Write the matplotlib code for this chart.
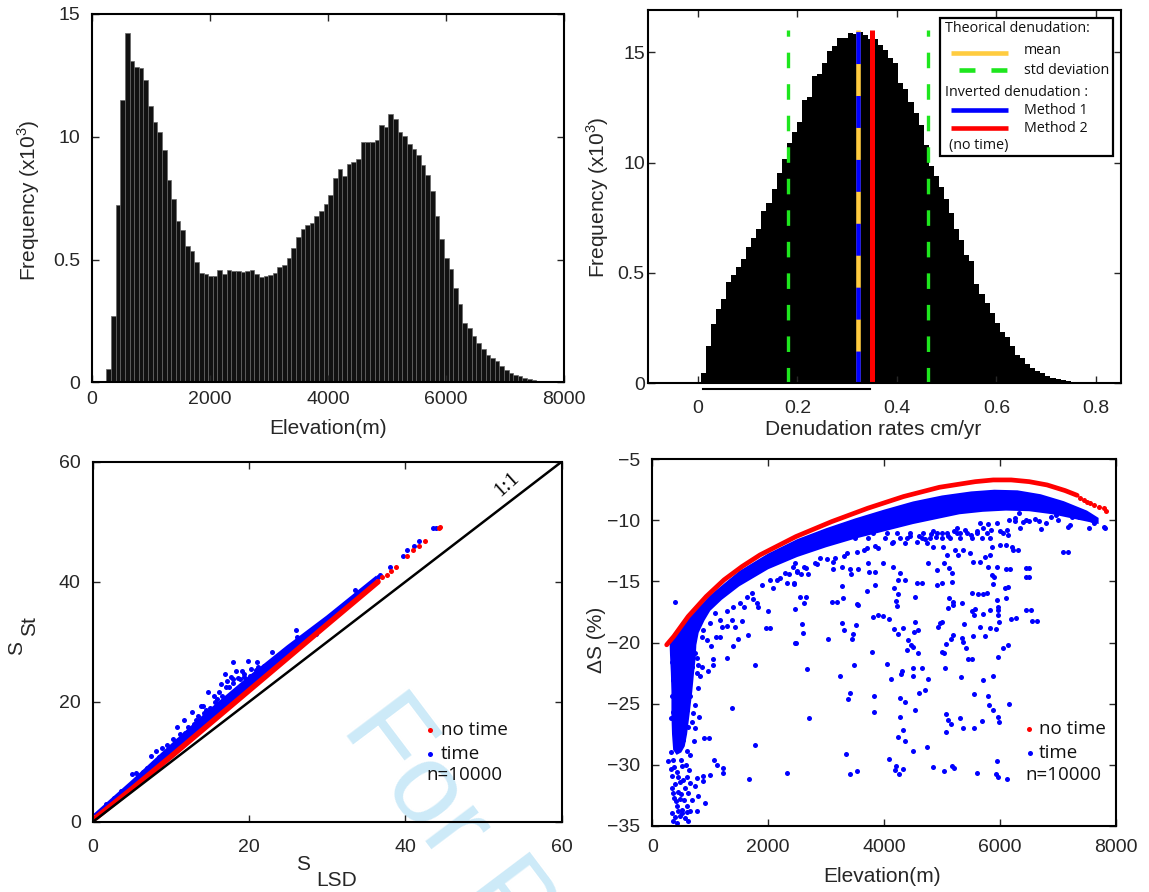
import numpy as np
import matplotlib.pyplot as plt
from matplotlib.patches import Rectangle

plt.rcParams['font.family'] = ['Liberation Sans', 'DejaVu Sans']
plt.rcParams['mathtext.fontset'] = 'custom'
plt.rcParams['mathtext.rm'] = 'Liberation Sans'
plt.rcParams['lines.scale_dashes'] = False

# ---------------- data ----------------
# (a) elevation histogram, counts x10^3
elev_bin_start, elev_bin_width = 250, 78.3
elev_counts = [0.54, 2.72, 7.23, 11.48, 14.24, 13.08, 12.85, 12.82, 12.3, 11.27,
               10.59, 10.19, 9.48, 8.22, 7.47, 6.58, 6.2, 5.56, 5.33, 4.88,
               4.47, 4.43, 4.32, 4.32, 4.56, 4.43, 4.56, 4.54, 4.54, 4.51,
               4.54, 4.56, 4.43, 4.29, 4.33, 4.37, 4.47, 4.71, 4.78, 5.08,
               5.49, 5.90, 6.24, 6.42, 6.47, 6.78, 6.96, 7.26, 7.64, 8.31,
               8.68, 8.39, 8.90, 8.99, 9.11, 9.78, 9.78, 9.80, 9.85, 10.46,
               10.40, 10.94, 10.74, 10.19, 10.05, 9.69, 9.51, 9.24, 8.87, 8.45,
               7.81, 6.78, 5.83, 5.08, 4.60, 3.86, 3.17, 2.43, 2.22, 1.88,
               1.61, 1.34, 1.13, 0.97, 0.86, 0.68, 0.52, 0.38, 0.31, 0.25,
               0.18, 0.14, 0.10, 0.07, 0.04, 0.03, 0.02, 0.01]

# (b) denudation histogram, counts x10^3
den_bin_start, den_bin_width = 0.005, 0.0102
den_counts = [0.45, 1.69, 2.67, 3.35, 3.80, 4.58, 4.91, 5.26, 5.64, 6.17,
              6.60, 7.00, 7.81, 8.19, 8.80, 9.51, 10.16, 10.88, 11.40, 11.83,
              12.85, 12.97, 13.90, 14.02, 14.50, 15.06, 15.26, 15.63, 15.66, 15.86,
              15.81, 15.90, 15.80, 15.60, 15.59, 15.33, 15.10, 14.73, 14.50, 13.60,
              13.34, 12.72, 12.24, 11.71, 10.81, 9.83, 9.38, 8.89, 8.35, 7.72,
              6.97, 6.47, 5.83, 5.56, 4.48, 4.06, 3.65, 3.20, 2.74, 2.32,
              2.10, 1.69, 1.27, 1.16, 0.86, 0.71, 0.56, 0.48, 0.33, 0.26,
              0.18, 0.14, 0.09, 0.06, 0.04, 0.03, 0.02, 0.02, 0.01, 0.01, 0.05]
den_mean = 0.322
den_std_lo, den_std_hi = 0.1815, 0.4618
den_method1 = 0.322
den_method2 = 0.350
den_line_top = 16
den_range_bar = [0.0094, 0.3458]

# (c) S_St vs S_LSD
slsd_red_x = [0.4, 5, 10, 15, 20, 25, 30, 36.5]
slsd_red_y = [0.7, 5.5, 10.9, 16.4, 21.9, 27.4, 32.9, 40.0]
slsd_red_sparse_x = [36.98, 37.6, 38.2, 38.78, 40.25, 41.01, 41.77, 42.48, 44.24, 44.48]
slsd_red_sparse_y = [40.8, 41.19, 41.74, 42.47, 44.25, 45.25, 46.03, 46.81, 49.04, 49.15]
slsd_blue_band_x = [0.4, 5, 10, 15, 20, 25, 30, 36.2]
slsd_blue_band_lo = [0.7, 5.5, 10.9, 16.4, 21.9, 27.4, 32.9, 40.0]
slsd_blue_band_hi = [1.3, 6.6, 12.6, 18.5, 24.0, 29.2, 34.1, 40.6]
slsd_blue_x = [3.66, 5.08, 5.55, 7.45, 8.16, 8.88, 10.3, 10.77, 11.73, 12.67,
               13.86, 14.1, 14.8, 15.52, 16.47, 16.95, 17.66, 17.99, 18.37, 19.08,
               19.32, 19.89, 20.27, 21.08, 22.17, 22.97, 24.5, 25.96, 26.2, 30.0,
               33.56, 17.19, 18.85, 21.2, 23.35, 1.76, 2.7,
               9.5, 11.2, 12.2, 13.2, 14.5, 15.9, 16.2, 17.4, 18.0, 19.6,
               20.6, 21.6, 22.6, 24.0, 25.2, 26.8, 27.6, 28.6, 31.5, 32.5, 34.5, 35.5,
               6.4, 7.0, 8.5, 9.9, 10.9, 11.8, 12.9, 13.5, 14.2, 15.0, 15.6, 16.6,
               17.0, 17.9, 18.6, 19.3, 20.1, 20.9, 21.9, 23.0, 23.8, 25.4,
               36.5, 36.8, 38.07, 39.73, 40.2, 41.15, 41.77, 43.53, 43.86]
slsd_blue_y = [5.18, 7.96, 8.24, 11.0, 11.85, 12.4, 13.8, 15.75, 16.97, 18.25,
               19.37, 19.37, 21.6, 21.04, 22.99, 24.66, 24.1, 26.6, 25.2, 25.2,
               24.1, 26.88, 25.5, 26.6, 25.2, 28.27, 28.27, 32.0, 30.78, 33.56,
               38.68, 23.54, 23.82, 25.88, 26.88, 2.95, 4.06,
               12.9, 14.6, 15.9, 17.0, 18.6, 20.4, 21.7, 22.5, 23.1, 23.3,
               24.4, 24.7, 26.0, 27.1, 28.3, 29.6, 30.4, 31.3, 35.0, 36.2, 38.3, 39.3,
               8.4, 9.0, 10.9, 12.3, 13.6, 14.9, 16.3, 17.6, 18.1, 19.0, 20.0, 21.0,
               22.4, 23.8, 23.9, 24.6, 24.3, 25.3, 26.0, 26.2, 27.5, 28.9,
               40.8, 41.1, 42.47, 44.25, 45.25, 46.03, 46.81, 49.04, 49.04]

# (d) Delta S vs elevation
ds_red_x = [248, 371, 619, 929, 1238, 1548, 1858, 2477, 3096, 3715, 4334,
            4954, 5573, 5882, 6192, 6502, 6811, 7121, 7330]
ds_red_y = [-20.19, -19.5, -17.87, -16.24, -14.87, -13.78, -12.83, -11.33, -10.10,
            -9.01, -8.05, -7.29, -6.83, -6.69, -6.69, -6.83, -7.10, -7.56, -7.95]
ds_red_sparse_x = [7380, 7440, 7492, 7560, 7628, 7700, 7789, 7833]
ds_red_sparse_y = [-8.2, -8.33, -8.46, -8.6, -8.74, -8.87, -9.0, -9.23]
ds_band_top_x = [300, 600, 1000, 1500, 2000, 2500, 3000, 3500, 4000, 4500, 5000,
                 5500, 5900, 6300, 6700, 7100, 7500, 7700]
ds_band_top_y = [-20.0, -18.14, -16.12, -14.15, -12.71, -11.54, -10.64, -9.84, -9.12,
                 -8.45, -7.96, -7.63, -7.49, -7.54, -7.86, -8.43, -9.2, -9.8]
ds_band_bot_x = [7700, 7300, 6900, 6500, 6100, 5700, 5300, 4900, 4500, 4000, 3500,
                 3000, 2500, 2000, 1500, 1200, 1000, 900, 800, 760, 750, 720, 690,
                 640, 600, 560, 500, 420, 360, 340, 330, 330, 320, 305, 300]
ds_band_bot_y = [-10.3, -9.9, -9.5, -9.25, -9.2, -9.3, -9.5, -9.9, -10.3, -10.9, -11.5,
                 -12.2, -13.0, -14.0, -15.4, -16.5, -17.4, -18.2, -19.2, -20.2, -21.2,
                 -22.5, -24.0, -26.0, -27.5, -28.5, -29.0, -29.2, -28.8, -27.5, -26.0,
                 -24.0, -22.5, -21.0, -20.3]
ds_blue_x = [
    392, 334, 363, 346, 363, 323, 380, 421, 449, 265, 317, 346, 334, 374, 334, 363,
    421, 507, 593, 651, 766, 679, 622, 564, 536, 651, 737, 794, 909, 766, 869, 881,
    996, 1065, 1122, 1214, 1214, 892, 984, 720, 651, 593, 536, 507, 622, 679, 737,
    812, 708, 593, 478, 737, 651, 593, 478, 794, 823, 766, 679, 593, 507, 421, 766,
    794, 852, 967, 1042, 1042, 1283, 1013, 1168, 1398, 1484, 1657, 1772, 1542, 1427,
    1295, 1369, 1197, 1099, 938, 881, 1829, 2002, 1962, 2030, 1772, 1381, 2318, 2462,
    2088, 2318, 2445, 2433, 2491, 2289, 2203, 2030, 1887, 1714, 1628, 1513, 1398,
    1283, 1168, 1082, 995, 852, 737, 622, 536, 478, 1800, 1588, 1731, 1672,
    380, 420, 450, 480, 400, 440, 470, 500, 410, 450, 480, 390, 430, 520, 550, 600,
    580, 630, 520, 490, 360, 330, 350, 560, 600, 620,
    7165, 2444, 2548, 2645, 2461, 2617, 2576, 2605, 2473, 2674, 2708, 3025, 3094,
    3180, 3266, 3295, 3266, 3307, 3439, 3456, 3508, 3238, 3479, 3410, 3381, 3341,
    3410, 3525, 3525, 3554, 3709, 3784, 3801, 3841, 3830, 3830, 3899, 3985, 4083,
    4175, 4244, 4330, 4169, 4244, 4227, 4204, 4043, 4117, 4273, 4359, 4290, 4301,
    4388, 4416, 4457, 4491, 4514, 4531, 4589, 4589, 4491, 4491, 4646, 4750, 4704,
    4606, 4531, 4273, 4319, 4244, 4359, 4491, 4733, 4083, 4204, 4186, 4261, 4330,
    4848, 5032, 5164, 5204, 5607, 5952, 5923, 5969, 6113, 5066, 5095, 5147, 5060,
    5308, 5354, 5549, 5693, 5785, 5808, 5871, 5969, 5980, 6153, 5883, 5699, 5555,
    5319, 5049, 5520, 5451, 5405, 5365, 5336, 5193, 5147, 5066, 5037, 4991, 4934,
    4963, 4991, 5377, 5538, 5653, 5739, 5825, 5929, 5980, 5969, 5969, 5969, 5825,
    5710, 5549, 5509, 5624, 5699, 5768, 5952, 6101, 6130, 6274, 6527, 6630, 6504,
    6504, 6170, 5883, 6055, 6141, 5969, 5181, 5124, 5095, 5193, 5336, 5509, 5566,
    4991, 4905, 5164, 5164, 5124, 5032, 4905, 4750, 4646, 4560, 4531, 4359, 4244,
    4273, 4146, 3985, 3841, 3738, 3715, 3554, 3410, 3422, 3278, 3123, 3123, 3008,
    2691, 2565, 2502, 2461, 2617, 2806, 2893, 3353, 3525, 3698, 3899, 4129, 4359,
    4560, 4733, 4848, 5020, 5078, 5221, 5279, 5365, 5480, 5538, 5653, 5739, 5825,
    5796, 5854, 5894, 5940, 5998, 6101, 6199, 6302, 5854,
    3410, 3583, 3813, 4043, 4215, 4445, 4675, 4905, 5078, 5250, 5423, 5595, 5768, 6055,
    3496, 3726, 4014, 4273, 4388, 4646, 4790, 4991, 5135, 5308, 5509, 5681, 5825,
    5800, 5850, 5700, 5950, 6000, 5600, 5500, 5400, 5300, 5200, 5100, 5000, 4900,
    4800, 4700, 4600, 6250, 6400, 6600, 6800, 7000, 7200, 6350, 6700, 6150, 5650,
    5250, 4850, 4450, 4150, 3850, 3650, 3300, 3150, 2850, 2650, 2350, 2150,
    6111, 6130, 6223, 6099, 6087, 6192, 6440, 6440, 6452, 6551, 6328, 6266, 6440,
    6501, 6675, 6873, 6966, 7077, 7164, 7245, 7368, 7492, 7542, 7585, 7628, 7789, 7814]
ds_blue_y = [
    -16.65, -21.56, -23.06, -24.42, -25.65, -26.19, -26.74, -27.42, -27.97, -29.74,
    -30.37, -30.97, -31.92, -32.74, -33.97, -34.65, -33.42, -33.7, -33.42, -33.83,
    -33.83, -32.88, -32.33, -31.92, -31.24, -31.51, -31.79, -32.6, -33.15, -31.1,
    -30.97, -31.38, -30.83, -29.6, -30.01, -30.29, -30.69, -27.78, -27.83, -28.1,
    -29.19, -28.92, -27.97, -27.42, -26.88, -26.47, -27.01, -26.06, -25.78, -25.51,
    -25.24, -25.1, -24.42, -24.01, -23.74, -23.74, -22.78, -22.51, -21.97, -21.83,
    -21.15, -20.87, -21.28, -21.83, -21.97, -22.37, -21.83, -21.37, -21.28, -20.27,
    -19.51, -20.27, -19.73, -19.37, -21.83, -18.28, -18.75, -18.64, -18.15, -18.69,
    -19.57, -19.78, -18.97, -17.06, -17.46, -18.83, -18.83, -28.38, -25.38, -30.69,
    -20.06, -15.56, -15.15, -15.23, -13.78, -14.19, -14.33, -14.74, -14.87, -15.28,
    -15.96, -16.24, -16.78, -17.06, -17.46, -18.15, -17.6, -18.42, -19.51, -20.87,
    -21.15, -20.6, -20.19, -16.73, -17.06, -16.46, -31.18,
    -30.2, -30.6, -31.0, -31.4, -31.6, -32.2, -32.8, -32.4, -33.0, -33.8, -34.2, -34.3,
    -34.8, -34.0, -32.9, -31.0, -30.0, -30.4, -30.1, -29.6, -29.6, -29.0, -32.3,
    -34.4, -33.9, -34.6,
    -12.56, -15.15, -16.24, -16.24, -17.28, -16.79, -18.48, -19.19, -20.06, -22.19,
    -26.2, -19.73, -16.65, -16.65, -15.37, -16.38, -18.37, -18.97, -19.73, -19.3,
    -18.56, -22.71, -21.83, -24.15, -24.64, -29.12, -30.75, -30.56, -16.84, -16.92,
    -15.78, -20.74, -17.93, -15.29, -24.42, -25.71, -17.74, -17.82, -18.1, -18.91,
    -19.3, -18.83, -15.56, -16.02, -17.0, -16.57, -21.78, -23.0, -24.56, -24.89,
    -22.57, -22.3, -20.61, -19.79, -20.2, -20.39, -19.11, -18.29, -18.97, -20.82,
    -22.11, -22.73, -22.11, -23.01, -23.93, -24.1, -25.51, -26.11, -27.15, -27.7,
    -28.1, -28.9, -28.57, -29.55, -30.15, -30.48, -30.75, -30.37, -30.21, -30.56,
    -30.15, -30.29, -30.7, -29.74, -30.75, -31.03, -31.19, -25.84, -26.33, -26.69,
    -27.34, -26.2, -27.02, -26.96, -26.42, -24.34, -25.11, -25.52, -26.06, -26.55,
    -25.05, -22.71, -23.11, -24.23, -22.79, -22.11, -21.34, -21.34, -20.47, -19.92,
    -19.65, -19.38, -19.73, -20.11, -20.88, -20.74, -18.7, -18.42, -18.29, -18.5,
    -19.46, -18.7, -19.46, -18.78, -18.91, -18.29, -17.74, -17.33, -17.06, -17.33,
    -17.66, -17.74, -15.91, -16.02, -16.02, -15.97, -16.51, -16.38, -15.48, -18.01,
    -17.33, -18.2, -14.6, -13.87, -13.98, -15.2, -20.47, -20.2, -21.15, -16.92,
    -16.38, -17.2, -16.65, -16.79, -17.41, -17.28, -15.15, -15.29, -15.01, -14.33,
    -13.92, -13.51, -14.06, -13.51, -15.1, -15.1, -16.24, -14.88, -14.88, -14.28,
    -13.79, -13.51, -14.2, -14.2, -13.51, -14.0, -14.0, -14.39, -13.84, -13.98,
    -13.38, -13.19, -14.41, -14.41, -14.11, -13.51, -13.84, -13.51, -13.1, -12.69,
    -12.56, -12.29, -12.29, -11.88, -11.88, -11.74, -11.88, -12.15, -12.15, -12.83,
    -12.42, -12.83, -12.42, -12.69, -13.38, -13.38, -12.97, -12.83, -13.79, -14.47,
    -14.6, -13.79, -12.01, -12.01, -12.15, -12.42, -12.15,
    -11.06, -11.06, -11.06, -11.06, -11.06, -11.06, -11.06, -11.06, -11.06, -11.06,
    -11.06, -11.06, -11.06, -11.06,
    -11.47, -11.47, -11.47, -11.47, -11.47, -11.47, -11.47, -11.47, -11.47, -11.47,
    -11.47, -11.47, -11.47,
    -10.3, -10.8, -10.6, -10.2, -10.9, -10.9, -11.2, -10.8, -11.0, -10.9, -11.3, -11.0,
    -11.4, -11.1, -11.5, -11.3, -9.8, -10.1, -9.9, -10.2, -10.0, -10.4, -10.6, -10.7,
    -10.0, -10.2, -10.6, -10.9, -11.3, -11.8, -12.1, -12.4, -12.9, -13.1, -13.6,
    -13.9, -14.4, -14.9,
    -10.78, -11.19, -12.42, -14.0, -15.55, -18.06, -13.92, -14.6, -17.33, -18.28,
    -9.36, -10.04, -9.96, -10.04, -10.04, -9.69, -9.55, -12.55, -10.51, -9.69, -9.75,
    -9.64, -10.65, -9.96, -10.18, -10.56, -10.65]

# ---------------- figure ----------------
W, H = 1149, 892


def rect(l, t, r, b):
    return [l / W, 1 - b / H, (r - l) / W, (b - t) / H]


def fpx(x, y):
    return x / W, 1 - y / H


def style(ax, xpad, ypad):
    ax.tick_params(direction='in', top=True, right=True, length=5, width=1,
                   labelsize=14, labelcolor='#262626', color='#262626')
    ax.tick_params(axis='x', pad=xpad)
    ax.tick_params(axis='y', pad=ypad)
    for s in ax.spines.values():
        s.set_linewidth(1.5)


fig = plt.figure(figsize=(11.49, 8.92), dpi=100)
tc = '#262626'

# --- (a) elevation histogram
ax1 = fig.add_axes(rect(91.7, 14, 564, 382.3))
edges = elev_bin_start + elev_bin_width * np.arange(len(elev_counts))
ax1.bar(edges, elev_counts, width=elev_bin_width, align='edge',
        color='#111111', edgecolor='#666666', linewidth=0.5)
ax1.set_xlim(0, 8000)
ax1.set_ylim(0, 15)
ax1.set_xticks([0, 2000, 4000, 6000, 8000])
ax1.set_yticks([0, 5, 10, 15])
ax1.set_yticklabels(['0', '0.5', '10', '15'])
style(ax1, 6.5, 8)
fig.text(*fpx(328, 428), 'Elevation(m)', ha='center', va='center', fontsize=15, color=tc)
fig.text(*fpx(29, 200), r'Frequency (x10$^{3}$)', ha='center', va='center',
         rotation=90, fontsize=15, color=tc)

# --- (b) denudation histogram
ax2 = fig.add_axes(rect(648.3, 10, 1120.7, 383.3))
dedges = den_bin_start + den_bin_width * np.arange(len(den_counts) + 1)
ax2.stairs(den_counts, dedges, fill=True, color='black')
ax2.set_xlim(-0.1, 0.85)
ax2.set_ylim(0, 16.91)
ax2.set_xticks([0, 0.2, 0.4, 0.6, 0.8])
ax2.set_xticklabels(['0', '0.2', '0.4', '0.6', '0.8'])
ax2.set_yticks([0, 5, 10, 15])
ax2.set_yticklabels(['0', '0.5', '10', '15'])
style(ax2, 12, 2.5)
green = '#1ee61e'
yellow = '#ffcc40'
for xv in (den_std_lo, den_std_hi):
    ax2.plot([xv, xv], [0, den_line_top], color=green, lw=2.4, dashes=(11.2, 11.5))
ax2.plot([den_mean, den_mean], [0, den_line_top], color=yellow, lw=3.3,
         solid_capstyle='butt')
ax2.plot([den_method1, den_method1], [0, den_line_top], color='#0000ff', lw=3.3,
         dashes=(23, 23), dash_capstyle='butt')
ax2.plot([den_method2, den_method2], [0, den_line_top], color='#ff0000', lw=3.6,
         solid_capstyle='butt')
ax2.plot(den_range_bar, [-0.26, -0.26], color='black', lw=1.5, clip_on=False)
fig.text(*fpx(873, 430), 'Denudation rates cm/yr', ha='center', va='center',
         fontsize=15, color=tc)
fig.text(*fpx(598, 197), r'Frequency (x10$^{3}$)', ha='center', va='center',
         rotation=90, fontsize=15, color=tc)


def ta(x, y):
    return (x - 648.3) / 472.4, (383.3 - y) / 373.3


lx0, ly0 = ta(940, 156)
lx1, ly1 = ta(1113.3, 18.3)
ax2.add_patch(Rectangle((lx0, ly0), lx1 - lx0, ly1 - ly0, transform=ax2.transAxes,
                        facecolor='white', edgecolor='black', lw=1.6, zorder=5))
lf = dict(family=['Open Sans', 'DejaVu Sans'], fontsize=10.3, color='#111111',
          transform=ax2.transAxes, va='center', ha='left', zorder=6)
ax2.text(*ta(945, 28.3), 'Theorical denudation:', **lf)
ax2.text(*ta(1024, 50.7), 'mean', **lf)
ax2.text(*ta(1024, 70), 'std deviation', **lf)
ax2.text(*ta(945, 92.3), 'Inverted denudation :', **lf)
ax2.text(*ta(1024, 110), 'Method 1', **lf)
ax2.text(*ta(1024, 128.3), 'Method 2', **lf)
ax2.text(*ta(949, 145), '(no time)', **lf)
for yy, col in ((52.7, yellow), (110, '#0000ff'), (128.3, '#ff0000')):
    a, b = ta(950.7, yy), ta(1007.7, yy)
    ax2.plot([a[0], b[0]], [a[1], b[1]], color=col, lw=3.3, transform=ax2.transAxes,
             solid_capstyle='butt', zorder=6)
a, b = ta(959, 70), ta(1007, 70)
ax2.plot([a[0], b[0]], [a[1], b[1]], color=green, lw=3.3, transform=ax2.transAxes,
         dashes=(11.5, 11.5), zorder=6)

# --- (c) S_St vs S_LSD
ax3 = fig.add_axes(rect(92.7, 461.7, 561.7, 822))
# watermark, behind the data
ax3.text(0.5277, 0.2609, 'For Peer Review', transform=ax3.transAxes, rotation=-53,
         rotation_mode='anchor', ha='left', va='baseline', fontsize=82,
         color='#cdeaf8', clip_on=False, zorder=0.5)
ax3.fill_between(slsd_blue_band_x, slsd_blue_band_lo, slsd_blue_band_hi,
                 color='#0000ff', lw=0)
ax3.plot(slsd_blue_band_x, slsd_blue_band_hi, color='#0000ff', lw=2.5)
ax3.scatter(slsd_blue_x, slsd_blue_y, s=13, color='#0000ff', lw=0)
ax3.plot(slsd_red_x, slsd_red_y, color='#ff0000', lw=4, solid_capstyle='round')
ax3.scatter(slsd_red_sparse_x, slsd_red_sparse_y, s=13, color='#ff0000', lw=0)
ax3.plot([0, 60], [0, 60], color='black', lw=1.8)
ax3.text(53.0, 56.1, '1:1', rotation=42, ha='center', va='center', fontsize=15,
         family=['Liberation Serif', 'DejaVu Serif'])
ax3.set_xlim(0, 60)
ax3.set_ylim(0, 60)
ax3.set_xticks([0, 20, 40, 60])
ax3.set_yticks([0, 20, 40, 60])
style(ax3, 12, 8.6)
of = dict(family=['Open Sans', 'DejaVu Sans'], fontsize=13.5, color='#111111')
ax3.scatter([43.2], [15.3], s=13, color='#ff0000', lw=0)
ax3.scatter([43.2], [11.4], s=13, color='#0000ff', lw=0)
ax3.text(44.5, 15.3, 'no time', va='center', **of)
ax3.text(44.5, 11.4, 'time', va='center', **of)
ax3.text(42.7, 7.8, 'n=10000', va='center', **of)
fig.text(*fpx(302.7, 865), 'S', ha='center', va='center', fontsize=15, color=tc)
fig.text(*fpx(336.7, 880), 'LSD', ha='center', va='center', fontsize=15, color=tc)
fig.text(*fpx(16.6, 648), 'S', ha='center', va='center', rotation=90, fontsize=15, color=tc)
fig.text(*fpx(29.6, 626), 'St', ha='center', va='center', rotation=90, fontsize=15, color=tc)

# --- (d) Delta S vs elevation
ax4 = fig.add_axes(rect(652.3, 459.3, 1116, 825.7))
ax4.fill(np.concatenate([ds_band_top_x, ds_band_bot_x]),
         np.concatenate([ds_band_top_y, ds_band_bot_y]), color='#0000ff', lw=0)
ax4.scatter(ds_blue_x, ds_blue_y, s=13, color='#0000ff', lw=0)
ax4.plot(ds_red_x, ds_red_y, color='#ff0000', lw=3.4, solid_capstyle='round')
ax4.scatter(ds_red_sparse_x, ds_red_sparse_y, s=13, color='#ff0000', lw=0)
ax4.set_xlim(0, 8000)
ax4.set_ylim(-35, -5)
ax4.set_xticks([0, 2000, 4000, 6000, 8000])
ax4.set_yticks([-35, -30, -25, -20, -15, -10, -5])
style(ax4, 9.6, 8.6)
ax4.scatter([6502], [-27.1], s=13, color='#ff0000', lw=0)
ax4.scatter([6514], [-29.02], s=13, color='#0000ff', lw=0)
ax4.text(6672, -27.1, 'no time', va='center', **of)
ax4.text(6672, -29.02, 'time', va='center', **of)
ax4.text(6440, -30.85, 'n=10000', va='center', **of)
fig.text(*fpx(881.7, 877), 'Elevation(m)', ha='center', va='center', fontsize=15, color=tc)
fig.text(*fpx(597, 640), 'ΔS (%)', ha='center', va='center', rotation=90,
         fontsize=15, color=tc)

fig.savefig('out.png', dpi=100)
